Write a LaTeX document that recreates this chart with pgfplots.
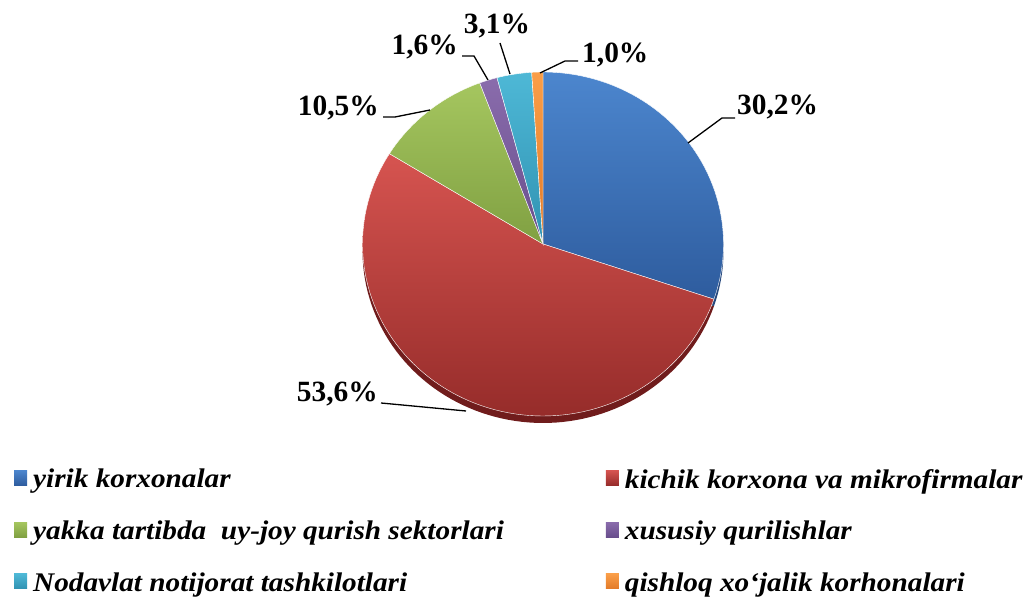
\documentclass[border=0pt]{standalone}
\usepackage{pgfplots}
\pgfplotsset{compat=1.18}
\usepackage{fontspec}
\setmainfont{Liberation Serif}
\newfontfamily\legfont[FakeStretch=1.088]{Liberation Serif}

\definecolor{bT}{RGB}{76,134,206}
\definecolor{bB}{RGB}{46,92,158}
\definecolor{bS}{RGB}{38,72,125}
\definecolor{rT}{RGB}{214,84,80}
\definecolor{rB}{RGB}{150,44,42}
\definecolor{rS}{RGB}{112,28,28}
\definecolor{gT}{RGB}{165,198,95}
\definecolor{gB}{RGB}{128,160,66}
\definecolor{pT}{RGB}{138,108,172}
\definecolor{pB}{RGB}{104,78,140}
\definecolor{cT}{RGB}{78,184,214}
\definecolor{cB}{RGB}{48,146,178}
\definecolor{oT}{RGB}{250,158,72}
\definecolor{oB}{RGB}{226,122,40}

% shares (%), clockwise from 12 o'clock
\def\vA{30.2}\def\vB{53.6}\def\vC{10.5}\def\vD{1.6}\def\vE{3.1}\def\vF{1.0}
\pgfmathsetmacro\aA{90-3.6*\vA}
\pgfmathsetmacro\aB{\aA-3.6*\vB}
\pgfmathsetmacro\aC{\aB-3.6*\vC}
\pgfmathsetmacro\aD{\aC-3.6*\vD}
\pgfmathsetmacro\aE{\aD-3.6*\vE}
\pgfmathsetmacro\aF{\aE-3.6*\vF}

\begin{document}
\begin{tikzpicture}
\begin{axis}[
  hide axis, scale only axis, width=1026bp, height=597bp,
  xmin=0, xmax=1026, ymin=0, ymax=597, clip=false,
  legend columns=2,
  legend cell align=left,
  legend style={draw=none, fill=none, at={(axis cs:14,130)}, anchor=north west,
    font=\legfont\fontsize{27}{30}\selectfont\bfseries\itshape,
    row sep=27.5bp, inner sep=0pt,
    /tikz/every odd column/.append style={column sep=4bp},
    /tikz/every even column/.append style={column sep=100bp}},
  legend image code/.code={\path[#1, draw=none] (0bp,-6bp) rectangle (13bp,9bp);},
]
% 3D side (visible lower rim)
\addplot[forget plot, draw=none, fill=bS, domain=\aA:90, samples=60, variable=\t]
  ({543+180.5*cos(\t)},{346+172*sin(\t)}) -- (axis cs:543,346) -- cycle;
\addplot[forget plot, draw=none, fill=rS, domain=\aB:\aA, samples=90, variable=\t]
  ({543+180.5*cos(\t)},{346+172*sin(\t)}) -- (axis cs:543,346) -- cycle;
% slices
\addplot[draw=white, line width=0.4bp, top color=bT, bottom color=bB, domain=\aA:90, samples=60, variable=\t]
  ({543+180.5*cos(\t)},{353+172*sin(\t)}) -- (axis cs:543,353) -- cycle;
\addplot[draw=white, line width=0.4bp, top color=rT, bottom color=rB, domain=\aB:\aA, samples=90, variable=\t]
  ({543+180.5*cos(\t)},{353+172*sin(\t)}) -- (axis cs:543,353) -- cycle;
\addplot[draw=white, line width=0.4bp, top color=gT, bottom color=gB, domain=\aC:\aB, samples=30, variable=\t]
  ({543+180.5*cos(\t)},{353+172*sin(\t)}) -- (axis cs:543,353) -- cycle;
\addplot[draw=white, line width=0.4bp, top color=pT, bottom color=pB, domain=\aD:\aC, samples=10, variable=\t]
  ({543+180.5*cos(\t)},{353+172*sin(\t)}) -- (axis cs:543,353) -- cycle;
\addplot[draw=white, line width=0.4bp, top color=cT, bottom color=cB, domain=\aE:\aD, samples=12, variable=\t]
  ({543+180.5*cos(\t)},{353+172*sin(\t)}) -- (axis cs:543,353) -- cycle;
\addplot[draw=white, line width=0.4bp, top color=oT, bottom color=oB, domain=\aF:\aE, samples=8, variable=\t]
  ({543+180.5*cos(\t)},{353+172*sin(\t)}) -- (axis cs:543,353) -- cycle;
% leader lines
\addplot[forget plot, black, line width=1.3bp] coordinates {(688,454) (722,479) (735,479)};
\addplot[forget plot, black, line width=1.3bp] coordinates {(381,194) (466,186)};
\addplot[forget plot, black, line width=1.3bp] coordinates {(383,480) (395,480) (430,487)};
\addplot[forget plot, black, line width=1.3bp] coordinates {(462,541) (474,541) (488,517)};
\addplot[forget plot, black, line width=1.3bp] coordinates {(500,554) (510,523)};
\addplot[forget plot, black, line width=1.3bp] coordinates {(578,536) (565,536) (540,524)};
% labels
\begin{scope}[every node/.style={font=\fontsize{29.5}{31}\selectfont\bfseries, inner sep=0pt}]
\node[anchor=west] at (axis cs:737,490) {30,2\%};
\node[anchor=east] at (axis cs:378,203) {53,6\%};
\node[anchor=east] at (axis cs:379,489) {10,5\%};
\node[anchor=east] at (axis cs:458,550) {1,6\%};
\node[anchor=center] at (axis cs:497,571) {3,1\%};
\node[anchor=west] at (axis cs:582,542) {1,0\%};
\end{scope}
\legend{yirik korxonalar, kichik korxona va mikrofirmalar, yakka tartibda~ uy-joy qurish sektorlari, xususiy qurilishlar, Nodavlat notijorat tashkilotlari, qishloq xo‘jalik korhonalari}
\end{axis}
\pgfresetboundingbox
\path (current axis.south west) rectangle (current axis.north east);
\end{tikzpicture}
\end{document}
